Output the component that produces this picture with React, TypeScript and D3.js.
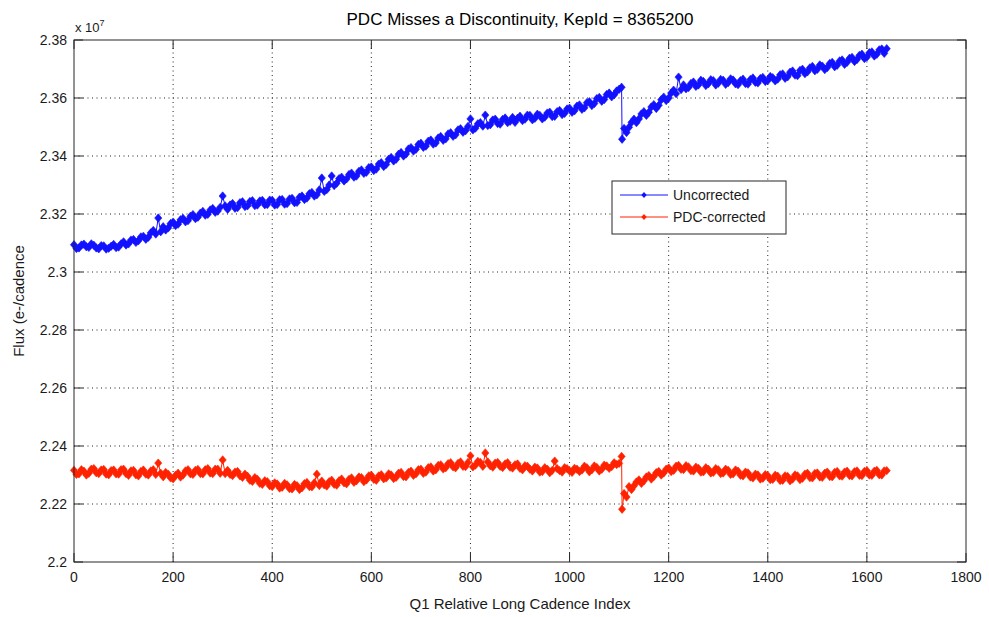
import React from "react";
import * as d3 from "d3";

// Long-cadence index of each plotted sample (every 5th cadence, plus cadence 1106 right after the jump)
const cadence: number[] = [
  ...d3.range(0, 1106, 5),
  1106,
  ...d3.range(1110, 1641, 5),
];

// Flux, units of 1e7 e-/cadence
const uncorrected: number[] = [
  2.3094, 2.3081, 2.3083, 2.3093, 2.3096, 2.3087, 2.3085, 2.3097, 2.3092, 2.3083, 2.3080, 2.3091, 2.3090, 2.3079, 2.3082, 2.3089, 2.3095, 2.3084, 2.3086, 2.3097,
  2.3104, 2.3093, 2.3097, 2.3110, 2.3112, 2.3102, 2.3108, 2.3121, 2.3123, 2.3113, 2.3120, 2.3135, 2.3143, 2.3131, 2.3186, 2.3139, 2.3156, 2.3145, 2.3152, 2.3167,
  2.3172, 2.3160, 2.3165, 2.3180, 2.3185, 2.3173, 2.3177, 2.3192, 2.3198, 2.3184, 2.3189, 2.3203, 2.3209, 2.3196, 2.3199, 2.3214, 2.3219, 2.3206, 2.3210, 2.3223,
  2.3262, 2.3228, 2.3216, 2.3231, 2.3236, 2.3220, 2.3222, 2.3239, 2.3242, 2.3226, 2.3228, 2.3243, 2.3246, 2.3229, 2.3231, 2.3245, 2.3247, 2.3232, 2.3233, 2.3248,
  2.3247, 2.3231, 2.3233, 2.3249, 2.3250, 2.3234, 2.3236, 2.3252, 2.3254, 2.3239, 2.3240, 2.3258, 2.3262, 2.3250, 2.3255, 2.3270, 2.3274, 2.3262, 2.3266, 2.3283,
  2.3324, 2.3278, 2.3284, 2.3300, 2.3331, 2.3298, 2.3306, 2.3322, 2.3327, 2.3314, 2.3321, 2.3336, 2.3341, 2.3327, 2.3331, 2.3347, 2.3352, 2.3340, 2.3344, 2.3360,
  2.3362, 2.3350, 2.3355, 2.3372, 2.3377, 2.3364, 2.3371, 2.3389, 2.3395, 2.3383, 2.3389, 2.3406, 2.3412, 2.3400, 2.3407, 2.3424, 2.3429, 2.3417, 2.3423, 2.3440,
  2.3444, 2.3430, 2.3434, 2.3451, 2.3455, 2.3441, 2.3445, 2.3462, 2.3467, 2.3454, 2.3459, 2.3476, 2.3480, 2.3468, 2.3473, 2.3490, 2.3494, 2.3482, 2.3487, 2.3502,
  2.3528, 2.3490, 2.3496, 2.3511, 2.3515, 2.3503, 2.3541, 2.3505, 2.3508, 2.3524, 2.3527, 2.3512, 2.3510, 2.3526, 2.3531, 2.3515, 2.3520, 2.3533, 2.3516, 2.3530,
  2.3537, 2.3522, 2.3527, 2.3541, 2.3540, 2.3525, 2.3530, 2.3544, 2.3540, 2.3528, 2.3534, 2.3548, 2.3551, 2.3536, 2.3537, 2.3553, 2.3557, 2.3543, 2.3547, 2.3562,
  2.3565, 2.3551, 2.3556, 2.3572, 2.3576, 2.3561, 2.3566, 2.3584, 2.3587, 2.3574, 2.3581, 2.3598, 2.3602, 2.3589, 2.3595, 2.3612, 2.3617, 2.3604, 2.3611, 2.3624, 2.3630,
  2.3637,
  2.3458,
  2.3495, 2.3481, 2.3499, 2.3516, 2.3527, 2.3515, 2.3528, 2.3545, 2.3553, 2.3540, 2.3551, 2.3569, 2.3577, 2.3564, 2.3575, 2.3594, 2.3603, 2.3591,
  2.3600, 2.3617, 2.3627, 2.3615, 2.3672, 2.3629, 2.3645, 2.3632, 2.3636, 2.3650, 2.3655, 2.3640, 2.3645, 2.3661, 2.3657, 2.3643, 2.3649, 2.3663, 2.3660, 2.3645,
  2.3651, 2.3664, 2.3661, 2.3647, 2.3653, 2.3666, 2.3662, 2.3649, 2.3646, 2.3660, 2.3665, 2.3650, 2.3648, 2.3664, 2.3669, 2.3654, 2.3652, 2.3667, 2.3671, 2.3657,
  2.3660, 2.3674, 2.3670, 2.3659, 2.3665, 2.3680, 2.3683, 2.3668, 2.3673, 2.3689, 2.3693, 2.3679, 2.3677, 2.3695, 2.3699, 2.3684, 2.3690, 2.3704, 2.3709, 2.3694,
  2.3699, 2.3714, 2.3710, 2.3698, 2.3705, 2.3719, 2.3723, 2.3708, 2.3713, 2.3728, 2.3731, 2.3716, 2.3723, 2.3737, 2.3740, 2.3726, 2.3733, 2.3747, 2.3751, 2.3736,
  2.3741, 2.3756, 2.3759, 2.3745, 2.3751, 2.3766, 2.3769, 2.3754, 2.3770,
];

const pdcCorrected: number[] = [
  2.2316, 2.2302, 2.2304, 2.2318, 2.2313, 2.2300, 2.2306, 2.2320, 2.2322, 2.2308, 2.2305, 2.2317, 2.2319, 2.2303, 2.2301, 2.2315, 2.2317, 2.2304, 2.2303, 2.2318,
  2.2320, 2.2305, 2.2299, 2.2314, 2.2316, 2.2301, 2.2297, 2.2312, 2.2317, 2.2303, 2.2300, 2.2314, 2.2318, 2.2302, 2.2341, 2.2306, 2.2294, 2.2309, 2.2303, 2.2290,
  2.2287, 2.2299, 2.2306, 2.2293, 2.2300, 2.2314, 2.2318, 2.2304, 2.2302, 2.2316, 2.2319, 2.2305, 2.2304, 2.2318, 2.2322, 2.2307, 2.2305, 2.2320, 2.2320, 2.2306,
  2.2352, 2.2305, 2.2316, 2.2302, 2.2298, 2.2310, 2.2312, 2.2297, 2.2292, 2.2303, 2.2296, 2.2282, 2.2278, 2.2291, 2.2285, 2.2271, 2.2268, 2.2280, 2.2277, 2.2263,
  2.2260, 2.2273, 2.2269, 2.2255, 2.2258, 2.2271, 2.2266, 2.2253, 2.2252, 2.2267, 2.2263, 2.2250, 2.2256, 2.2270, 2.2274, 2.2260, 2.2259, 2.2273, 2.2303, 2.2264,
  2.2279, 2.2266, 2.2262, 2.2277, 2.2282, 2.2268, 2.2265, 2.2280, 2.2286, 2.2273, 2.2270, 2.2285, 2.2290, 2.2275, 2.2280, 2.2293, 2.2291, 2.2277, 2.2283, 2.2297,
  2.2299, 2.2285, 2.2282, 2.2297, 2.2301, 2.2287, 2.2290, 2.2304, 2.2300, 2.2288, 2.2292, 2.2306, 2.2309, 2.2295, 2.2294, 2.2309, 2.2313, 2.2299, 2.2304, 2.2318,
  2.2320, 2.2306, 2.2310, 2.2325, 2.2328, 2.2314, 2.2318, 2.2333, 2.2335, 2.2321, 2.2325, 2.2339, 2.2342, 2.2328, 2.2325, 2.2340, 2.2345, 2.2330, 2.2329, 2.2343,
  2.2366, 2.2328, 2.2334, 2.2347, 2.2343, 2.2330, 2.2376, 2.2345, 2.2332, 2.2327, 2.2341, 2.2343, 2.2330, 2.2326, 2.2338, 2.2342, 2.2327, 2.2324, 2.2335, 2.2338,
  2.2323, 2.2318, 2.2332, 2.2330, 2.2320, 2.2314, 2.2327, 2.2324, 2.2310, 2.2312, 2.2325, 2.2320, 2.2308, 2.2316, 2.2348, 2.2322, 2.2315, 2.2310, 2.2325, 2.2322,
  2.2314, 2.2309, 2.2323, 2.2320, 2.2312, 2.2317, 2.2330, 2.2325, 2.2311, 2.2318, 2.2331, 2.2326, 2.2314, 2.2320, 2.2334, 2.2331, 2.2323, 2.2329, 2.2342, 2.2336, 2.2340,
  2.2364,
  2.2182,
  2.2236, 2.2224, 2.2260, 2.2250, 2.2263, 2.2276, 2.2283, 2.2271, 2.2280, 2.2293, 2.2298, 2.2286, 2.2295, 2.2308, 2.2312, 2.2300, 2.2307, 2.2320,
  2.2324, 2.2312, 2.2316, 2.2330, 2.2333, 2.2320, 2.2319, 2.2332, 2.2328, 2.2315, 2.2314, 2.2327, 2.2323, 2.2310, 2.2311, 2.2325, 2.2320, 2.2307, 2.2309, 2.2322,
  2.2318, 2.2305, 2.2307, 2.2320, 2.2316, 2.2302, 2.2304, 2.2317, 2.2313, 2.2299, 2.2297, 2.2310, 2.2307, 2.2293, 2.2290, 2.2303, 2.2300, 2.2286, 2.2289, 2.2301,
  2.2298, 2.2284, 2.2285, 2.2299, 2.2296, 2.2281, 2.2282, 2.2297, 2.2295, 2.2280, 2.2286, 2.2300, 2.2297, 2.2284, 2.2289, 2.2303, 2.2306, 2.2291, 2.2290, 2.2305,
  2.2307, 2.2293, 2.2292, 2.2306, 2.2310, 2.2295, 2.2294, 2.2309, 2.2312, 2.2297, 2.2296, 2.2310, 2.2313, 2.2298, 2.2297, 2.2311, 2.2314, 2.2299, 2.2298, 2.2312,
  2.2315, 2.2300, 2.2299, 2.2313, 2.2316, 2.2301, 2.2300, 2.2314, 2.2315,
];

const xTicks: number[] = [0, 200, 400, 600, 800, 1000, 1200, 1400, 1600, 1800];
const yTicks: number[] = [2.2, 2.22, 2.24, 2.26, 2.28, 2.3, 2.32, 2.34, 2.36, 2.38];
const yTickLabels: string[] = ["2.2", "2.22", "2.24", "2.26", "2.28", "2.3", "2.32", "2.34", "2.36", "2.38"];
const seriesNames: string[] = ["Uncorrected", "PDC-corrected"];
const seriesColors: string[] = ["#1212ff", "#ff2200"];

const W = 989;
const H = 617;
const M = { left: 74, right: 23, top: 40, bottom: 55 };
const FONT = "'Liberation Sans', Arial, Helvetica, sans-serif";

// diamond marker, centred on the sample
const MARKER = "M0,-4.2L3.6,0L0,4.2L-3.6,0Z";

export default function App() {
  const x = d3.scaleLinear().domain([0, 1800]).range([M.left, W - M.right]);
  const y = d3.scaleLinear().domain([2.2, 2.38]).range([H - M.bottom, M.top]);
  const x0 = x.range()[0], x1 = x.range()[1];
  const y0 = y.range()[0], y1 = y.range()[1];
  const tick = 9;

  const line = d3
    .line<[number, number]>()
    .x((d) => x(d[0]))
    .y((d) => y(d[1]));

  const series = [uncorrected, pdcCorrected].map((vals) =>
    cadence.map((c, i) => [c, vals[i]] as [number, number])
  );

  const legend = { x: 612, y: 181, w: 174, h: 53 };

  return (
    <svg
      width={W}
      height={H}
      style={{ position: "absolute", left: 0, top: 0, background: "#fff" }}
      fontFamily={FONT}
    >
      <rect x={0} y={0} width={W} height={H} fill="#fff" />

      {/* grid */}
      <g stroke="#222" strokeWidth={1} strokeDasharray="1,3.5">
        {xTicks.slice(1, -1).map((t) => (
          <line key={"gx" + t} x1={x(t)} x2={x(t)} y1={y0} y2={y1} />
        ))}
        {yTicks.slice(1, -1).map((t) => (
          <line key={"gy" + t} x1={x0} x2={x1} y1={y(t)} y2={y(t)} />
        ))}
      </g>

      {/* data */}
      {series.map((pts, si) => (
        <g key={si}>
          <path d={line(pts)!} fill="none" stroke={seriesColors[si]} strokeWidth={1} />
          {pts.map((p, i) => (
            <path
              key={i}
              d={MARKER}
              transform={`translate(${x(p[0])},${y(p[1])})`}
              fill={seriesColors[si]}
              stroke={seriesColors[si]}
              strokeWidth={0.6}
            />
          ))}
        </g>
      ))}

      {/* axes box and ticks */}
      <g stroke="#262626" strokeWidth={1} fill="none">
        <rect x={x0} y={y1} width={x1 - x0} height={y0 - y1} />
        {xTicks.map((t) => (
          <g key={"tx" + t}>
            <line x1={x(t)} x2={x(t)} y1={y0} y2={y0 - tick} />
            <line x1={x(t)} x2={x(t)} y1={y1} y2={y1 + tick} />
          </g>
        ))}
        {yTicks.map((t) => (
          <g key={"ty" + t}>
            <line x1={x0} x2={x0 + tick} y1={y(t)} y2={y(t)} />
            <line x1={x1} x2={x1 - tick} y1={y(t)} y2={y(t)} />
          </g>
        ))}
      </g>

      {/* tick labels */}
      <g fontSize={14} fill="#1a1a1a">
        {xTicks.map((t) => (
          <text key={"lx" + t} x={x(t)} y={y0 + 20} textAnchor="middle">
            {t}
          </text>
        ))}
        {yTicks.map((t, i) => (
          <text key={"ly" + t} x={x0 - 7} y={y(t) + 5} textAnchor="end">
            {yTickLabels[i]}
          </text>
        ))}
      </g>

      {/* exponent */}
      <text x={x0 + 1} y={y1 - 8} fontSize={13} fill="#1a1a1a">
        x 10
        <tspan dy={-6} fontSize={9}>7</tspan>
      </text>

      {/* title and axis labels */}
      <text x={(x0 + x1) / 2} y={25} textAnchor="middle" fontSize={17} fill="#000">
        PDC Misses a Discontinuity, KepId = 8365200
      </text>
      <text x={(x0 + x1) / 2} y={609} textAnchor="middle" fontSize={15} fill="#1a1a1a">
        Q1 Relative Long Cadence Index
      </text>
      <text
        transform={`translate(24,${(y0 + y1) / 2}) rotate(-90)`}
        textAnchor="middle"
        fontSize={15}
        fill="#1a1a1a"
      >
        Flux (e-/cadence
      </text>

      {/* legend */}
      <g>
        <rect x={legend.x} y={legend.y} width={legend.w} height={legend.h} fill="#fff" stroke="#262626" strokeWidth={1} />
        {seriesNames.map((name, i) => {
          const ly = legend.y + 14 + i * 22;
          return (
            <g key={name}>
              <line x1={legend.x + 8} x2={legend.x + 56} y1={ly} y2={ly} stroke={seriesColors[i]} strokeWidth={1} />
              <path d="M0,-3L2.7,0L0,3L-2.7,0Z" transform={`translate(${legend.x + 32},${ly})`} fill={seriesColors[i]} />
              <text x={legend.x + 61} y={ly + 5} fontSize={14} fill="#1a1a1a">
                {name}
              </text>
            </g>
          );
        })}
      </g>
    </svg>
  );
}
